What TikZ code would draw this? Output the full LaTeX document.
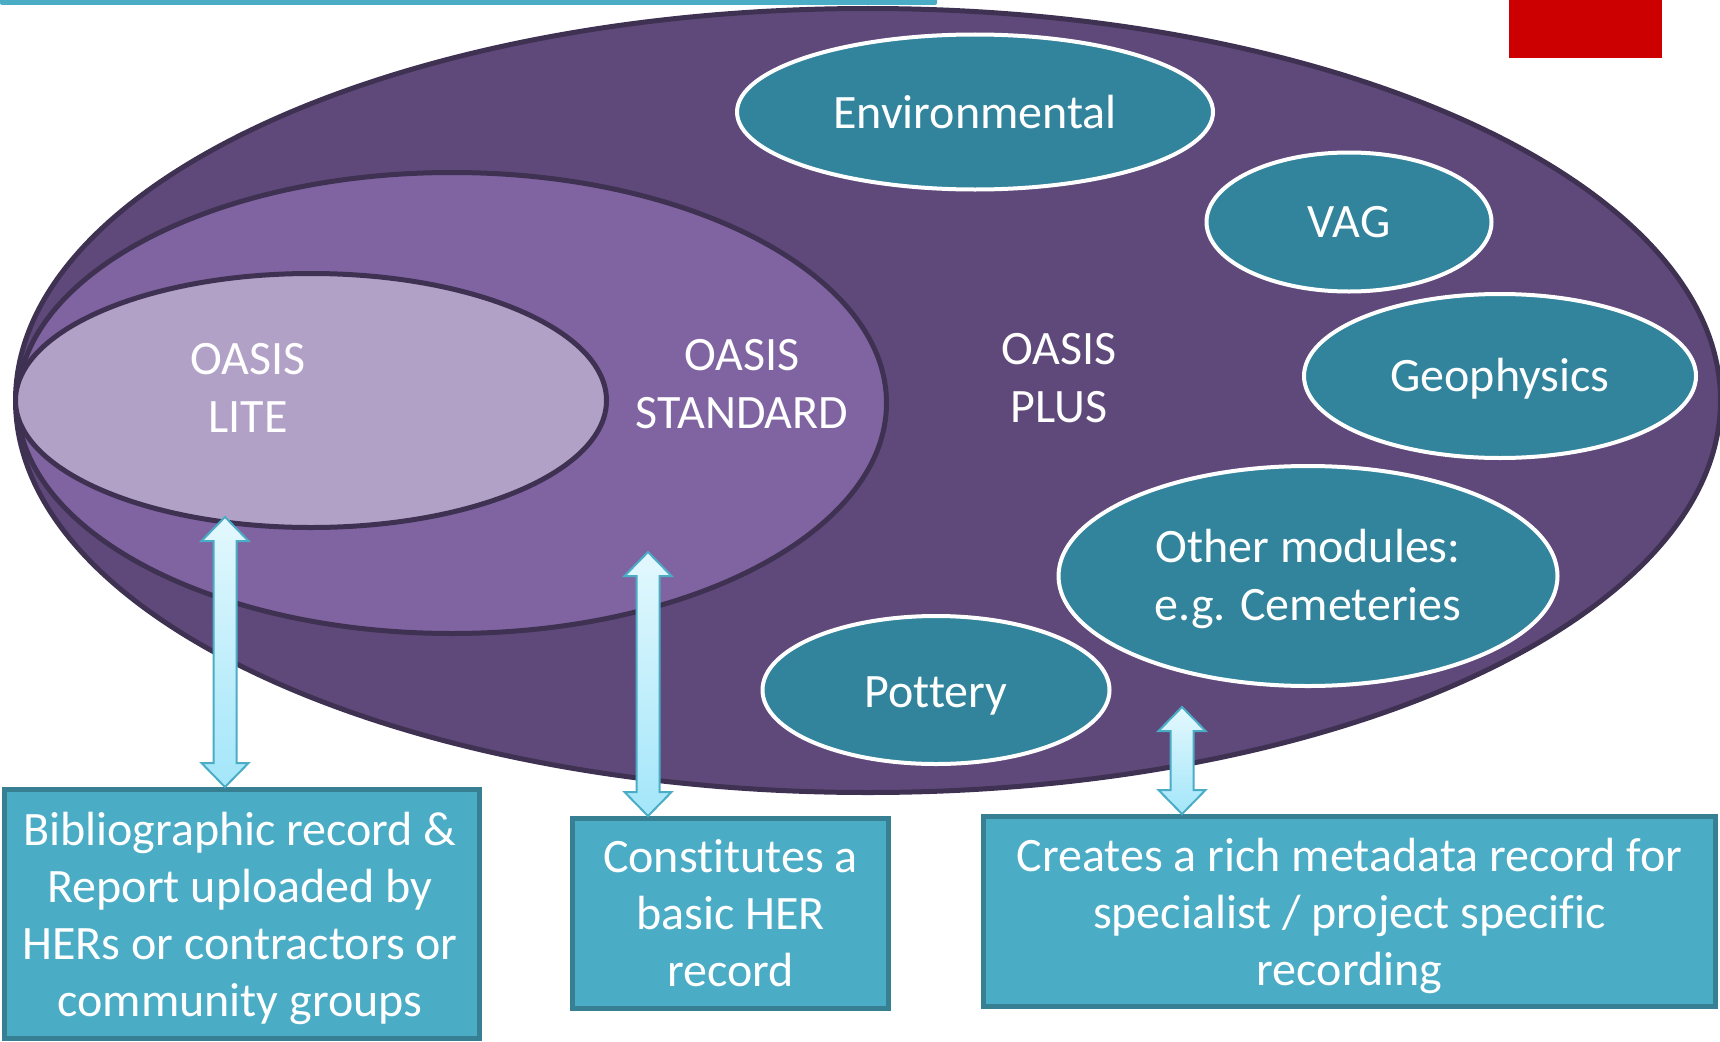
\documentclass[tikz,border=0pt]{standalone}
\usepackage{fontspec}
\setmainfont{Carlito}[Ligatures=NoCommon]
\usetikzlibrary{shapes.geometric,calc}
\definecolor{plusfill}{HTML}{5F497A}
\definecolor{stdfill}{HTML}{8064A2}
\definecolor{litefill}{HTML}{B2A1C7}
\definecolor{purpleborder}{HTML}{3F3151}
\definecolor{tealfill}{HTML}{31849B}
\definecolor{boxfill}{HTML}{4BACC6}
\definecolor{boxborder}{HTML}{377F93}
\definecolor{arrowtop}{HTML}{E3F8FD}
\definecolor{arrowbot}{HTML}{A3E6FA}
\definecolor{redmark}{HTML}{CC0000}
\newcommand\mydblarrow[2]{%
  \draw[arrowsty] (#1) -- ++(23.5,24) -- ++(-12,0) -- ($(#2)+(11.5,-24)$) -- ++(12,0) -- (#2)
    -- ++(-23.5,-24) -- ++(12,0) -- ($(#1)+(-11.5,24)$) -- ++(-12,0) -- cycle;}
\begin{document}
\begin{tikzpicture}[x=1pt,y=-1pt,
  bigfont/.style={font=\fontsize{48}{58}\selectfont},
  purpleell/.style={ellipse,draw=purpleborder,line width=5pt,inner sep=0pt},
  tealell/.style={ellipse,fill=tealfill,draw=white,line width=4pt,inner sep=0pt,text=white,align=center,bigfont},
  lbl/.style={text=white,align=center,inner sep=0pt,bigfont},
  boxsty/.style={rectangle,fill=boxfill,draw=boxborder,line width=5pt,inner sep=0pt,text=white,align=center,font=\fontsize{48}{57}\selectfont},
  txt/.style={text=white,align=center,inner sep=0pt},
  arrowsty/.style={draw=boxfill,line width=2pt,top color=arrowtop,bottom color=arrowbot,line join=miter}]
\useasboundingbox (0,0) rectangle (1720,1041);
% decorations
\fill[boxfill,rounded corners=2pt] (0,-3) rectangle (937,5);
\fill[redmark] (1509,0) rectangle (1662,58);
% nested ellipses
\node[purpleell,fill=plusfill,minimum width=1705pt,minimum height=784pt] (plus) at (868,400.5) {};
\node[purpleell,fill=stdfill,minimum width=869pt,minimum height=461pt] (std) at (452,403) {};
\node[purpleell,fill=litefill,minimum width=591pt,minimum height=254pt] (lite) at (311,400.5) {};
% labels
\node[lbl] (litel) at (248,388) {OASIS\\LITE};
\node[lbl] (stdl) at (742,384) {OASIS\\STANDARD};
\node[lbl] (plusl) at (1059,378) {OASIS\\PLUS};
% modules
\node[tealell,minimum width=476pt,minimum height=155pt] (env) at (975,112) {Environmental};
\node[tealell,minimum width=285pt,minimum height=139pt] (vag) at (1349,222) {VAG};
\node[tealell,minimum width=392pt,minimum height=164pt] (geo) at (1500,376) {};
\node[txt,bigfont] (geot) at (1500,379) {Geophysics};
\node[tealell,minimum width=499pt,minimum height=220pt] (other) at (1308,576) {};
\node[txt,bigfont] (othert) at (1308,579) {Other modules:\\e.g. Cemeteries};
\node[tealell,minimum width=347pt,minimum height=148pt] (pot) at (936,690) {};
\node[txt,bigfont] (pott) at (936,696) {Pottery};
% boxes
\node[boxsty,minimum width=475pt,minimum height=249pt] (box1) at (242,914) {};
\node[txt,font=\fontsize{48}{57}\selectfont] (box1t) at (240,918) {Bibliographic record \&\\Report uploaded by\\HERs or contractors or\\community groups};
\node[boxsty,minimum width=316pt,minimum height=190pt] (box2) at (730.5,913.5) {Constitutes a\\basic HER\\record};
\node[boxsty,minimum width=732pt,minimum height=190pt] (box3) at (1349.5,911.5) {};
\node[txt,font=\fontsize{48}{57}\selectfont] (box3t) at (1349.5,915.5) {Creates a rich metadata record for\\specialist / project specific\\recording};
% arrows
\coordinate (a1t) at (225,517);
\coordinate (a1b) at (a1t |- box1.north);
\coordinate (a2t) at (648,552);
\coordinate (a2b) at (a2t |- box2.north);
\coordinate (a3t) at (1182,707);
\coordinate (a3b) at (a3t |- box3.north);
\mydblarrow{a1t}{a1b}
\mydblarrow{a2t}{a2b}
\mydblarrow{a3t}{a3b}
\end{tikzpicture}
\end{document}
